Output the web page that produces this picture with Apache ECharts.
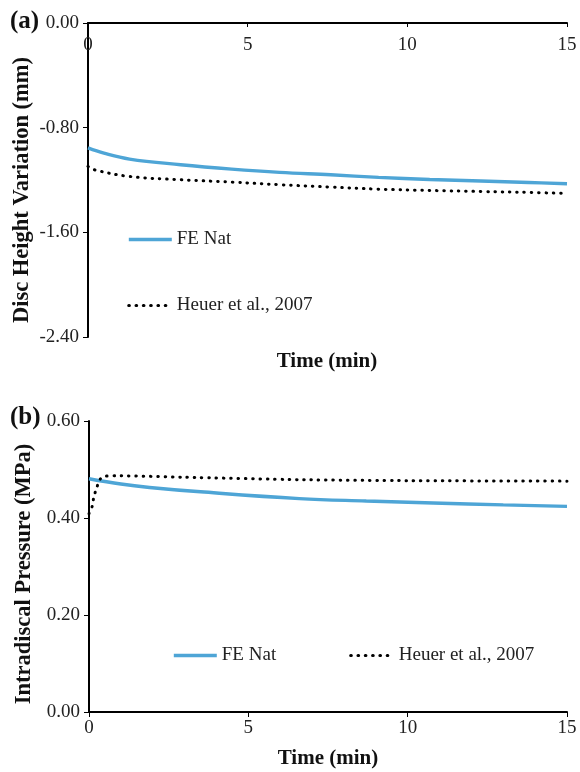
<!DOCTYPE html>
<html>
<head>
<meta charset="utf-8">
<script src="https://cdn.jsdelivr.net/npm/echarts@6/dist/echarts.min.js"></script>
<style>
html,body{margin:0;padding:0;background:#fff;}
#c{width:580px;height:772px;}
</style>
</head>
<body>
<div id="c"></div>
<script>
// ---- Data ----
// Panel (a): disc height variation (mm) vs time (min)
const timeFeA  = [0, 0.5, 1.3, 2.9, 4.5, 6.0, 7.6, 9.1, 10.7, 12.3, 13.8, 15];
const feNatA   = [-0.955, -0.995, -1.040, -1.083, -1.117, -1.142, -1.160, -1.180, -1.196, -1.208, -1.219, -1.229];
const timeHeA  = [0, 0.2, 1.3, 2.9, 4.5, 6.0, 7.6, 9.1, 10.7, 12.3, 13.8, 15];
const heuerA   = [-1.096, -1.122, -1.173, -1.198, -1.216, -1.236, -1.254, -1.270, -1.280, -1.288, -1.295, -1.303];
// Panel (b): intradiscal pressure (MPa) vs time (min)
const timeFeB  = [0, 1.0, 1.9, 3.5, 6.6, 8.7, 10.8, 13.0, 15];
const feNatB   = [0.481, 0.470, 0.463, 0.454, 0.440, 0.435, 0.431, 0.427, 0.424];
const timeHeB  = [0, 0.1, 0.15, 0.25, 0.35, 0.5, 1.0, 3.0, 6.6, 10.0, 15];
const heuerB   = [0.409, 0.424, 0.443, 0.464, 0.480, 0.486, 0.487, 0.484, 0.479, 0.477, 0.476];

const seriesNames = ['FE Nat', 'Heuer et al., 2007'];
const panelLabels = ['(a)', '(b)'];
const xAxisTitle = 'Time (min)';
const yAxisTitles = ['Disc Height Variation (mm)', 'Intradiscal Pressure (MPa)'];

const zip = (xs, ys) => xs.map((x, i) => [x, ys[i]]);

const FONT = 'Liberation Serif';
const BLUE = '#4ea5d6';
const lblStyle = {fontFamily: FONT, fontSize: 19, color: '#222'};
const nameStyle = {fontFamily: FONT, fontSize: 21, fontWeight: 'bold', color: '#111'};
const axisLine = {show: true, onZero: false, lineStyle: {color: '#000', width: 2}};

const feStyle = {color: BLUE, width: 3.4};
const heStyle = {color: '#000', width: 3, type: [0.5, 6.8], cap: 'round'};

const legendData = [
  {name: seriesNames[0], itemStyle: {opacity: 0}, lineStyle: {color: BLUE, width: 3.6}},
  {name: seriesNames[1], itemStyle: {opacity: 0}, lineStyle: {color: '#000', width: 3.2, type: [0.5, 6.8], cap: 'round'}}
];

const chart = echarts.init(document.getElementById('c'), null, {renderer: 'canvas'});
chart.setOption({
  animation: false,
  backgroundColor: '#fff',
  grid: [
    {left: 88, top: 23, width: 479, height: 314},
    {left: 89, top: 421, width: 478, height: 291}
  ],
  xAxis: [
    {gridIndex: 0, type: 'value', position: 'top', min: 0, max: 15, interval: 5,
     axisLine: axisLine, splitLine: {show: false},
     axisTick: {show: true, inside: true, length: 4, lineStyle: {color: '#000', width: 1}},
     axisLabel: {inside: true, margin: 13, ...lblStyle}},
    {gridIndex: 1, type: 'value', position: 'bottom', min: 0, max: 15, interval: 5,
     axisLine: axisLine, splitLine: {show: false},
     axisTick: {show: true, length: 5, lineStyle: {color: '#000', width: 1}},
     axisLabel: {margin: 7, ...lblStyle},
     name: xAxisTitle, nameLocation: 'middle', nameGap: 36, nameTextStyle: nameStyle}
  ],
  yAxis: [
    {gridIndex: 0, type: 'value', min: -2.4, max: 0, interval: 0.8,
     axisLine: axisLine, splitLine: {show: false},
     axisTick: {show: true, length: 5, lineStyle: {color: '#000', width: 1}},
     axisLabel: {margin: 9, formatter: v => v.toFixed(2), ...lblStyle}},
    {gridIndex: 1, type: 'value', min: 0, max: 0.6, interval: 0.2,
     axisLine: axisLine, splitLine: {show: false},
     axisTick: {show: true, length: 5, lineStyle: {color: '#000', width: 1}},
     axisLabel: {margin: 9, formatter: v => v.toFixed(2), ...lblStyle}}
  ],
  legend: [
    {orient: 'vertical', left: 122, top: 225, itemWidth: 43, itemHeight: 14, itemGap: 47,
     data: legendData, textStyle: lblStyle, selectedMode: false},
    {orient: 'horizontal', left: 167, top: 641, itemWidth: 43, itemHeight: 14, itemGap: 73,
     data: legendData, textStyle: lblStyle, selectedMode: false}
  ],
  graphic: [
    {type: 'text', left: 10, top: 9, style: {text: panelLabels[0], font: 'bold 25px "Liberation Serif"', fill: '#111'}},
    {type: 'text', left: 10, top: 405, style: {text: panelLabels[1], font: 'bold 25px "Liberation Serif"', fill: '#111'}},
    {type: 'text', x: 327, y: 362, style: {text: xAxisTitle, font: 'bold 21px "Liberation Serif"', fill: '#111', align: 'center', verticalAlign: 'middle'}},
    {type: 'text', x: 22, y: 190, rotation: Math.PI / 2, style: {text: yAxisTitles[0], font: 'bold 22.5px "Liberation Serif"', fill: '#111', align: 'center', verticalAlign: 'middle'}},
    {type: 'text', x: 24, y: 574, rotation: Math.PI / 2, style: {text: yAxisTitles[1], font: 'bold 22.5px "Liberation Serif"', fill: '#111', align: 'center', verticalAlign: 'middle'}}
  ],
  series: [
    {name: seriesNames[0], type: 'line', xAxisIndex: 0, yAxisIndex: 0, data: zip(timeFeA, feNatA),
     symbol: 'none', smooth: 0.4, lineStyle: feStyle, itemStyle: {color: BLUE}},
    {name: seriesNames[1], type: 'line', xAxisIndex: 0, yAxisIndex: 0, data: zip(timeHeA, heuerA),
     symbol: 'none', smooth: 0.4, lineStyle: heStyle, itemStyle: {color: '#000'}},
    {name: seriesNames[0], type: 'line', xAxisIndex: 1, yAxisIndex: 1, data: zip(timeFeB, feNatB),
     symbol: 'none', smooth: 0.4, lineStyle: feStyle, itemStyle: {color: BLUE}},
    {name: seriesNames[1], type: 'line', xAxisIndex: 1, yAxisIndex: 1, data: zip(timeHeB, heuerB),
     symbol: 'none', smooth: 0.2, lineStyle: heStyle, itemStyle: {color: '#000'}}
  ]
});
</script>
</body>
</html>
